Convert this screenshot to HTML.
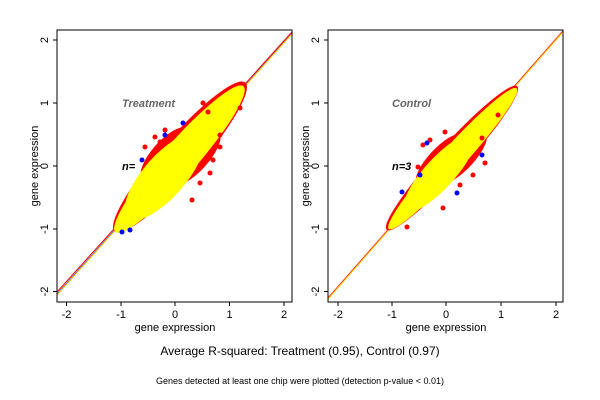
<!DOCTYPE html>
<html><head><meta charset="utf-8"><style>
body{margin:0;background:#fff}
svg{display:block;font-family:"Liberation Sans",sans-serif}
</style></head><body>
<svg width="600" height="400" viewBox="0 0 600 400">
<clipPath id="c1"><rect x="57" y="30" width="235" height="272"/></clipPath>
<clipPath id="c2"><rect x="328" y="30" width="235" height="272"/></clipPath>
<!-- Plot 1 -->
<g clip-path="url(#c1)">
<line x1="57" y1="294" x2="292" y2="33" stroke="#4060ff" stroke-width="1"/>
<line x1="57" y1="292" x2="292" y2="32" stroke="#ff0000" stroke-width="1"/>
<line x1="57" y1="295" x2="292" y2="34" stroke="#ffd000" stroke-width="1"/>
</g>
<g transform="translate(180,157) rotate(-48.7)">
<ellipse cx="0" cy="0" rx="99" ry="19.5" fill="#ff0000"/>
<ellipse cx="-8" cy="-12" rx="35" ry="14" fill="#ff0000"/>
<ellipse cx="10" cy="12" rx="35" ry="13" fill="#ff0000"/>
<ellipse cx="-2" cy="1" rx="97" ry="17" fill="#ffff00"/>
<ellipse cx="-25" cy="1" rx="55" ry="21" fill="#ffff00"/>
</g>
<g fill="#ff0000">
<circle cx="203" cy="103" r="2.5"/><circle cx="155" cy="137" r="2.5"/><circle cx="150" cy="157" r="2.5"/><circle cx="210" cy="173" r="2.5"/><circle cx="200" cy="183" r="2.5"/><circle cx="192" cy="200" r="2.5"/><circle cx="240" cy="108" r="2.5"/><circle cx="220" cy="147" r="2.5"/><circle cx="145" cy="147" r="2.5"/><circle cx="165" cy="130" r="2.5"/><circle cx="220" cy="135" r="2.5"/><circle cx="160" cy="142" r="2.5"/><circle cx="213" cy="160" r="2.5"/><circle cx="208" cy="112" r="2.5"/>
</g>
<g fill="#0000ff"><circle cx="183" cy="123" r="2.5"/><circle cx="165" cy="135" r="2.5"/><circle cx="142" cy="160" r="2.5"/><circle cx="122" cy="232" r="2.5"/><circle cx="130" cy="230" r="2.5"/></g>
<text x="122" y="107" font-size="11" font-weight="bold" font-style="italic" fill="#666">Treatment</text>
<text x="122" y="170" font-size="11" font-weight="bold" font-style="italic" fill="#000">n=</text>
<rect x="57" y="30" width="235" height="272" fill="none" stroke="#000" stroke-width="1"/>
<g stroke="#000"><line x1="66.5" y1="302" x2="66.5" y2="306"/><line x1="121" y1="302" x2="121" y2="306"/><line x1="175" y1="302" x2="175" y2="306"/><line x1="229.5" y1="302" x2="229.5" y2="306"/><line x1="284" y1="302" x2="284" y2="306"/>
<line x1="53" y1="40" x2="57" y2="40"/><line x1="53" y1="103" x2="57" y2="103"/><line x1="53" y1="166" x2="57" y2="166"/><line x1="53" y1="229" x2="57" y2="229"/><line x1="53" y1="291.5" x2="57" y2="291.5"/></g>
<g font-size="11" text-anchor="middle"><text x="66.5" y="318">-2</text><text x="121" y="318">-1</text><text x="175" y="318">0</text><text x="229.5" y="318">1</text><text x="284" y="318">2</text>
<text x="175" y="331">gene expression</text></g>
<g font-size="11" text-anchor="middle">
<text transform="translate(48,40) rotate(-90)">2</text><text transform="translate(48,103) rotate(-90)">1</text><text transform="translate(48,166) rotate(-90)">0</text><text transform="translate(48,229) rotate(-90)">-1</text><text transform="translate(48,291.5) rotate(-90)">-2</text>
<text transform="translate(38,166) rotate(-90)">gene expression</text></g>

<!-- Plot 2 -->
<g clip-path="url(#c2)">
<line x1="328" y1="298" x2="563" y2="31" stroke="#ff0000" stroke-width="1"/>
<line x1="328" y1="299" x2="563" y2="32" stroke="#ffd000" stroke-width="1"/>
</g>
<g transform="translate(452,158) rotate(-47.7)">
<ellipse cx="0" cy="0" rx="97" ry="14" fill="#ff0000"/>
<ellipse cx="-10" cy="-9" rx="32" ry="10" fill="#ff0000"/>
<ellipse cx="8" cy="9" rx="32" ry="10" fill="#ff0000"/>
<ellipse cx="0" cy="1" rx="95" ry="12" fill="#ffff00"/>
<ellipse cx="-20" cy="1" rx="50" ry="15" fill="#ffff00"/>
</g>
<g fill="#ff0000"><circle cx="445" cy="132" r="2.5"/><circle cx="423" cy="145" r="2.5"/><circle cx="482" cy="138" r="2.5"/><circle cx="473" cy="175" r="2.5"/><circle cx="485" cy="163" r="2.5"/><circle cx="443" cy="208" r="2.5"/><circle cx="407" cy="227" r="2.5"/><circle cx="418" cy="167" r="2.5"/><circle cx="430" cy="140" r="2.5"/><circle cx="460" cy="185" r="2.5"/><circle cx="498" cy="115" r="2.5"/></g>
<g fill="#0000ff"><circle cx="427" cy="143" r="2.5"/><circle cx="402" cy="192" r="2.5"/><circle cx="457" cy="193" r="2.5"/><circle cx="482" cy="155" r="2.5"/><circle cx="420" cy="175" r="2.5"/></g>
<text x="392" y="107" font-size="11" font-weight="bold" font-style="italic" fill="#666">Control</text>
<text x="392" y="170" font-size="11" font-weight="bold" font-style="italic" fill="#000">n=3</text>
<rect x="328" y="30" width="235" height="272" fill="none" stroke="#000" stroke-width="1"/>
<g stroke="#000"><line x1="338" y1="302" x2="338" y2="306"/><line x1="392" y1="302" x2="392" y2="306"/><line x1="446" y1="302" x2="446" y2="306"/><line x1="501" y1="302" x2="501" y2="306"/><line x1="556" y1="302" x2="556" y2="306"/>
<line x1="324" y1="40" x2="328" y2="40"/><line x1="324" y1="103" x2="328" y2="103"/><line x1="324" y1="166" x2="328" y2="166"/><line x1="324" y1="229" x2="328" y2="229"/><line x1="324" y1="291.5" x2="328" y2="291.5"/></g>
<g font-size="11" text-anchor="middle"><text x="338" y="318">-2</text><text x="392" y="318">-1</text><text x="446" y="318">0</text><text x="501" y="318">1</text><text x="556" y="318">2</text>
<text x="446" y="331">gene expression</text></g>
<g font-size="11" text-anchor="middle">
<text transform="translate(319,40) rotate(-90)">2</text><text transform="translate(319,103) rotate(-90)">1</text><text transform="translate(319,166) rotate(-90)">0</text><text transform="translate(319,229) rotate(-90)">-1</text><text transform="translate(319,291.5) rotate(-90)">-2</text>
<text transform="translate(309,166) rotate(-90)">gene expression</text></g>

<text x="300" y="355" font-size="12" text-anchor="middle">Average R-squared: Treatment (0.95), Control (0.97)</text>
<text x="300" y="384" font-size="9" text-anchor="middle">Genes detected at least one chip were plotted (detection p-value &lt; 0.01)</text>
</svg>
</body></html>
